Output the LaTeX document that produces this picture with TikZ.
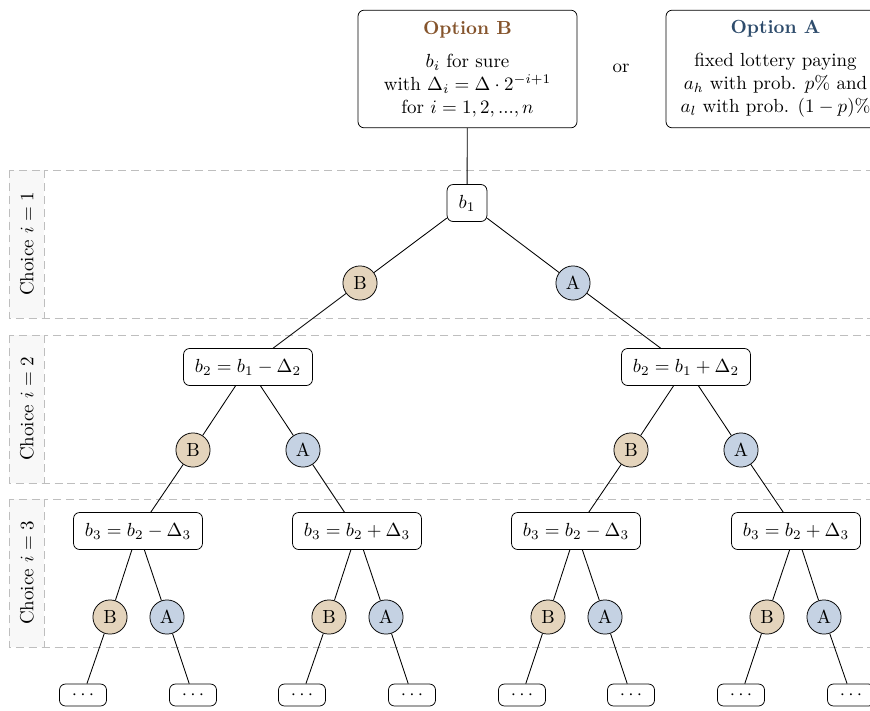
\documentclass[tikz,border=0pt]{standalone}
\usetikzlibrary{positioning}
\definecolor{bfill}{RGB}{228,212,188}
\definecolor{afill}{RGB}{197,210,227}
\definecolor{btitle}{RGB}{133,84,44}
\definecolor{atitle}{RGB}{46,76,108}
\definecolor{bandline}{RGB}{190,190,190}
\definecolor{bandfill}{RGB}{248,248,248}
\tikzset{
  optbox/.style={draw, rounded corners=3.2pt, minimum width=115.4pt, minimum height=62pt, align=center, inner sep=2pt},
  valbox/.style={draw, rounded corners=3.2pt, minimum height=19.5pt, inner xsep=6pt},
  dotbox/.style={draw, rounded corners=3.2pt, minimum height=11.6pt, minimum width=24.8pt, inner sep=1pt},
  bnode/.style={draw, circle, fill=bfill, minimum size=18pt, inner sep=0pt},
  anode/.style={draw, circle, fill=afill, minimum size=18pt, inner sep=0pt},
  band/.style={draw=bandline, dash pattern=on 4.2pt off 2.6pt, line width=0.5pt},
  bandlab/.style={draw=bandline, fill=bandfill, dash pattern=on 4.2pt off 2.6pt, line width=0.5pt},
  edge/.style={draw, line width=0.45pt}
}
\begin{document}
\begin{tikzpicture}[x=0.527pt, y=-0.527pt]
\useasboundingbox (0,0) rectangle (870,710);
\clip (0,0) rectangle (870,710);
% bands
\foreach \t/\b/\i in {170/318/1, 335/483/2, 499/647/3}{
  \draw[band] (9,\t) rectangle (900,\b);
  \draw[bandlab] (9,\t) rectangle (44,\b);
  \node[rotate=90] (lab\i) at (27,{(\t+\b)/2}) {Choice $i=\i$};
}
% top boxes
\node[optbox] (optB) at (467.5,69) {\textbf{\color{btitle}Option B}\\[5.4pt] $b_i$ for sure\\ with $\Delta_i=\Delta\cdot 2^{-i+1}$\\ for $i=1,2,...,n$};
\node (or) at (621,68) {or};
\node[optbox] (optA) at (775.5,69) {\textbf{\color{atitle}Option A}\\[5.4pt] fixed lottery paying\\ $a_h$ with prob. $p\%$ and\\ $a_l$ with prob. $(1-p)\%$};
% level 1
\node[valbox, minimum width=21pt, inner xsep=3pt] (b1) at (467,203) {$b_1$};
\node[bnode] (B1) at (360,283) {B};
\node[anode] (A1) at (573,283) {A};
% level 2
\node[valbox] (b2l) at (248,367) {$b_2=b_1-\Delta_2$};
\node[valbox] (b2r) at (686,367) {$b_2=b_1+\Delta_2$};
\node[bnode] (B2l) at (193,450) {B};
\node[anode] (A2l) at (303,450) {A};
\node[bnode] (B2r) at (631,450) {B};
\node[anode] (A2r) at (741,450) {A};
% level 3
\node[valbox] (b3a) at (138,531) {$b_3=b_2-\Delta_3$};
\node[valbox] (b3b) at (357,531) {$b_3=b_2+\Delta_3$};
\node[valbox] (b3c) at (576,531) {$b_3=b_2-\Delta_3$};
\node[valbox] (b3d) at (796,531) {$b_3=b_2+\Delta_3$};
\node[bnode] (B3a) at (110,617) {B};
\node[anode] (A3a) at (167,617) {A};
\node[bnode] (B3b) at (329,617) {B};
\node[anode] (A3b) at (386,617) {A};
\node[bnode] (B3c) at (548,617) {B};
\node[anode] (A3c) at (605,617) {A};
\node[bnode] (B3d) at (767,617) {B};
\node[anode] (A3d) at (824,617) {A};
% dots
\node[dotbox] (d1) at (83,695) {$\cdots$};
\node[dotbox] (d2) at (193,695) {$\cdots$};
\node[dotbox] (d3) at (302,695) {$\cdots$};
\node[dotbox] (d4) at (412,695) {$\cdots$};
\node[dotbox] (d5) at (522,695) {$\cdots$};
\node[dotbox] (d6) at (631,695) {$\cdots$};
\node[dotbox] (d7) at (741,695) {$\cdots$};
\node[dotbox] (d8) at (851,695) {$\cdots$};
% edges
\draw[edge] (optB) -- (b1);
\draw[edge] (b1) -- (B1);
\draw[edge] (b1) -- (A1);
\draw[edge] (B1) -- (b2l);
\draw[edge] (A1) -- (b2r);
\draw[edge] (b2l) -- (B2l);
\draw[edge] (b2l) -- (A2l);
\draw[edge] (b2r) -- (B2r);
\draw[edge] (b2r) -- (A2r);
\draw[edge] (B2l) -- (b3a);
\draw[edge] (A2l) -- (b3b);
\draw[edge] (B2r) -- (b3c);
\draw[edge] (A2r) -- (b3d);
\draw[edge] (b3a) -- (B3a);
\draw[edge] (b3a) -- (A3a);
\draw[edge] (b3b) -- (B3b);
\draw[edge] (b3b) -- (A3b);
\draw[edge] (b3c) -- (B3c);
\draw[edge] (b3c) -- (A3c);
\draw[edge] (b3d) -- (B3d);
\draw[edge] (b3d) -- (A3d);
\draw[edge] (B3a) -- (d1);
\draw[edge] (A3a) -- (d2);
\draw[edge] (B3b) -- (d3);
\draw[edge] (A3b) -- (d4);
\draw[edge] (B3c) -- (d5);
\draw[edge] (A3c) -- (d6);
\draw[edge] (B3d) -- (d7);
\draw[edge] (A3d) -- (d8);
\end{tikzpicture}
\end{document}
